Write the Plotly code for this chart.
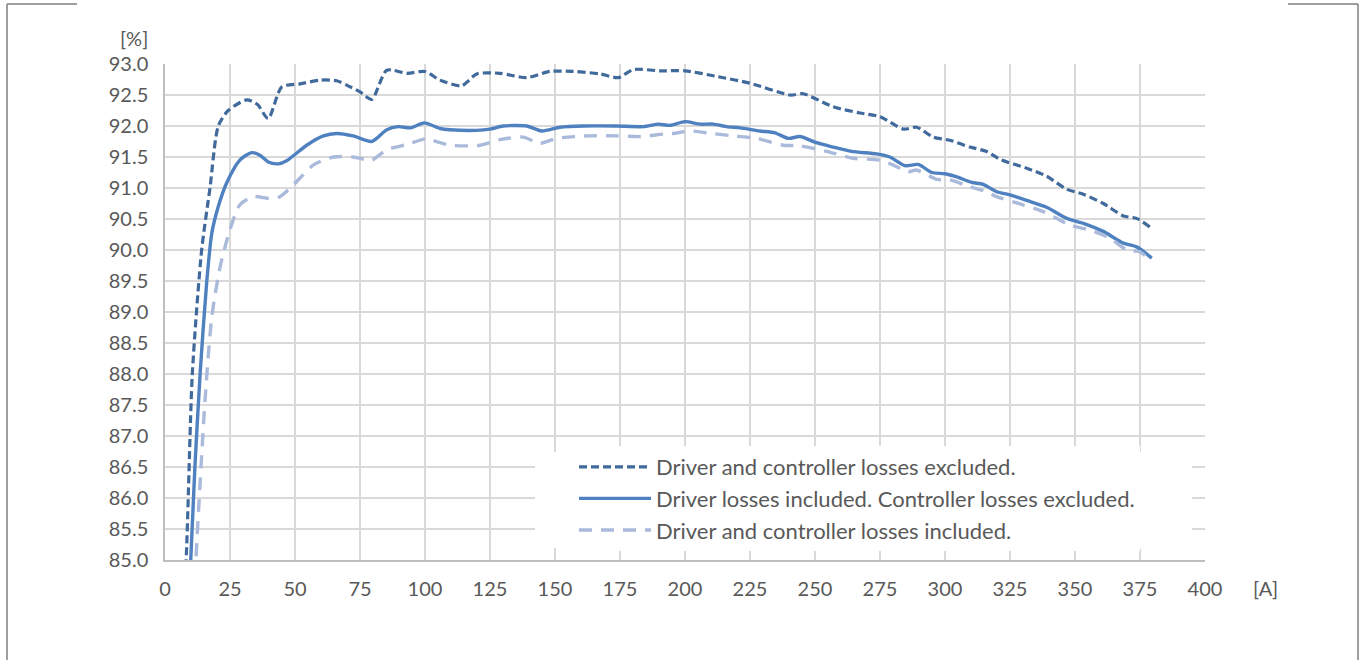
import plotly.graph_objects as go

# ── data (current [A] vs efficiency [%]) ──
names = [
    "Driver and controller losses excluded.",
    "Driver losses included. Controller losses excluded.",
    "Driver and controller losses included.",
]

x_excl = [7.0, 8.1, 10.5, 14.1, 17.3, 20.5, 24.3, 31.4, 35.5, 39.7, 44.9, 52, 59.6, 66,
          69.9, 75, 79.5, 85.3, 93, 100, 105.8, 114.1, 119.9, 128.8, 139.1, 148, 157,
          167.3, 174.4, 180.1, 190.4, 200, 212.2, 225, 240.4, 245.5, 257, 267.3, 275,
          284, 289.1, 295.5, 301.9, 309.6, 316, 321.2, 331.4, 339.1, 346.8, 353.2,
          360.9, 368.6, 373.7, 378.8]
y_excl = [84.5, 85.0, 88.0, 90.0, 91.0, 92.0, 92.25, 92.42, 92.35, 92.12, 92.63, 92.68,
          92.74, 92.73, 92.66, 92.55, 92.43, 92.90, 92.85, 92.88, 92.74, 92.65, 92.84,
          92.85, 92.78, 92.88, 92.88, 92.84, 92.78, 92.91, 92.89, 92.89, 92.80, 92.69,
          92.50, 92.52, 92.31, 92.21, 92.15, 91.95, 91.98, 91.82, 91.77, 91.66, 91.59,
          91.46, 91.32, 91.19, 90.98, 90.90, 90.75, 90.55, 90.51, 90.37]

x_drv = [9.0, 9.9, 11.5, 13.5, 16, 18, 20.5, 23.7, 28.8, 33.3, 36.5, 39.7, 43.6, 46.8,
         54.5, 60.9, 66, 72.4, 79.5, 85.3, 89.7, 94.5, 99.7, 105.8, 109.6, 119.9, 125,
         130.1, 139.1, 144.9, 151.9, 160.9, 173.7, 184, 189.7, 194.2, 200, 205.8, 210.9,
         216, 221.2, 228.8, 234.6, 239.7, 244.2, 250.6, 257, 264, 273.7, 278.8, 284.6,
         289.7, 294.9, 300, 304.5, 310.3, 314.7, 319.9, 325, 331.4, 339.1, 346.8, 353.2,
         360.9, 368.6, 373.7, 379.5]
y_drv = [84.3, 85.0, 86.5, 88.0, 89.46, 90.27, 90.70, 91.08, 91.45, 91.57, 91.53, 91.42,
         91.39, 91.44, 91.69, 91.84, 91.88, 91.84, 91.75, 91.94, 91.99, 91.97, 92.05,
         91.96, 91.94, 91.93, 91.95, 92.0, 92.0, 91.92, 91.98, 92.0, 92.0, 91.99, 92.03,
         92.01, 92.07, 92.03, 92.03, 91.99, 91.97, 91.92, 91.89, 91.80, 91.83, 91.73,
         91.66, 91.59, 91.55, 91.50, 91.36, 91.38, 91.25, 91.23, 91.18, 91.09, 91.06,
         90.94, 90.89, 90.80, 90.69, 90.51, 90.43, 90.30, 90.11, 90.05, 89.87]

x_all = [11.0, 11.9, 13.5, 15.4, 18, 21.2, 25, 28.8, 34, 40.4, 44.2, 49.4, 57, 64.7,
         72.4, 79.5, 85.3, 93, 100.3, 109.6, 121.2, 128.8, 137.8, 144.2, 150.6, 162.2,
         173.7, 182.7, 191.7, 195.5, 201.9, 208.3, 218.6, 227.6, 237.8, 244.2, 254.5,
         264.7, 275, 280.1, 285.9, 289, 296.8, 301.9, 309.6, 316, 319.9, 327.6, 337.8,
         348.1, 355.8, 363.5, 369.9, 375, 379.5]
y_all = [84.0, 85.0, 86.24, 87.58, 88.92, 89.73, 90.33, 90.73, 90.86, 90.83, 90.86,
         91.05, 91.37, 91.50, 91.50, 91.45, 91.62, 91.70, 91.79, 91.69, 91.69, 91.78,
         91.82, 91.72, 91.80, 91.84, 91.84, 91.83, 91.87, 91.88, 91.92, 91.89, 91.84,
         91.80, 91.69, 91.68, 91.59, 91.48, 91.45, 91.37, 91.26, 91.29, 91.14, 91.13,
         91.02, 90.94, 90.86, 90.76, 90.62, 90.40, 90.32, 90.19, 90.0, 89.97, 89.81]

x_ticks = list(range(0, 401, 25))
y_ticks = [85 + 0.5 * i for i in range(17)]

FONT = "Lato"
TXT = "#595959"
GRID = "#D9D9D9"

# plot area in px (1360x660 window)
W, H = 1360, 660
L, R, T, B = 165, 1205, 64, 560
X_RANGE, Y_RANGE = (0, 400), (85, 93)


def px(x, y):
    """pixel -> paper coords (for decorations outside the plot)"""
    return (x - L) / (R - L), (B - y) / (B - T)


def px_data(x, y):
    """pixel -> data coords"""
    fx, fy = px(x, y)
    return (X_RANGE[0] + fx * (X_RANGE[1] - X_RANGE[0]),
            Y_RANGE[0] + fy * (Y_RANGE[1] - Y_RANGE[0]))


fig = go.Figure()

series = [
    (x_excl, y_excl, names[0], "#40699C", 3.2, "8px,4px"),
    (x_drv, y_drv, names[1], "#4F81C0", 3.4, "solid"),
    (x_all, y_all, names[2], "#AABADB", 3.4, "13px,9px"),
]
for xs, ys, nm, col, w, dash in series:
    fig.add_trace(go.Scatter(
        x=xs, y=ys, name=nm, mode="lines",
        line=dict(color=col, width=w, dash=dash, shape="spline", smoothing=0.7),
        hoverinfo="skip",
    ))

# partial outer frame (corners visible in the reference)
frame = [((7, 4), (77, 4)), ((7, 4), (7, 662)),
         ((1288, 4), (1358, 4)), ((1358, 4), (1358, 662))]
for (xa, ya), (xb, yb) in frame:
    p0, p1 = px(xa, ya), px(xb, yb)
    fig.add_shape(type="line", xref="paper", yref="paper",
                  x0=p0[0], y0=p0[1], x1=p1[0], y1=p1[1],
                  line=dict(color="#7F7F7F", width=1.5), layer="above")

# white legend panel hiding the gridlines behind it (above grid, below traces)
b0, b1 = px_data(535, 452), px_data(1192, 548)
fig.add_shape(type="rect", xref="x", yref="y",
              x0=b0[0], y0=b0[1], x1=b1[0], y1=b1[1],
              fillcolor="white", line=dict(width=0), layer="between")

# axis unit labels
for txt, (ux, uy) in [("[%]", px(134, 38)), ("[A]", px(1265, 588))]:
    fig.add_annotation(text=txt, xref="paper", yref="paper", x=ux, y=uy,
                       xanchor="center", yanchor="middle", showarrow=False,
                       font=dict(family=FONT, size=20, color=TXT))

lx, ly = px(574, 446)
fig.update_layout(
    width=W, height=H,
    margin=dict(l=L, r=W - R, t=T, b=H - B, pad=0),
    paper_bgcolor="white", plot_bgcolor="white",
    font=dict(family=FONT, size=20, color=TXT),
    showlegend=True,
    legend=dict(x=lx, y=ly, xanchor="left", yanchor="top",
                bgcolor="white", font=dict(family=FONT, size=22, color=TXT),
                itemwidth=72, borderwidth=0),
    xaxis=dict(range=list(X_RANGE), tickvals=x_ticks, showgrid=True, gridcolor=GRID,
               gridwidth=1.5, showline=True, linecolor="#BFBFBF", linewidth=1.5,
               zeroline=False, ticks="", ticklabelstandoff=10, fixedrange=True),
    yaxis=dict(range=list(Y_RANGE), tickvals=y_ticks, tickformat=".1f", showgrid=True,
               gridcolor=GRID, gridwidth=1.5, showline=True, linecolor="#BFBFBF",
               linewidth=1.5, zeroline=False, ticks="", ticklabelstandoff=11,
               fixedrange=True),
)

# drop the default 8px body margin so the figure sits at the window origin
fig.write_html("out.html", config={"displayModeBar": False},
               post_script="document.body.style.margin='0';")
